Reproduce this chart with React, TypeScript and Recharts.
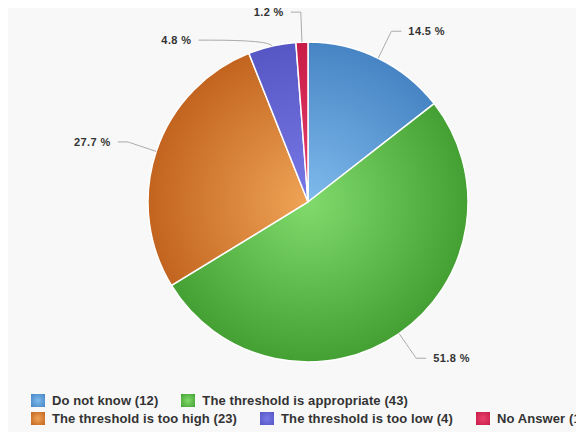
import React from "react";
import { PieChart, Pie, Cell, Legend } from "recharts";

const categories = [
  "Do not know",
  "The threshold is appropriate",
  "The threshold is too high",
  "The threshold is too low",
  "No Answer",
];
const counts = [12, 43, 23, 4, 1];
const lightColors = ["#80bbec", "#80da6c", "#efa456", "#7878e6", "#e8406c"];
const darkColors = ["#4684c4", "#45a033", "#c2641f", "#5656c4", "#c81c48"];
const legendRows = [
  [0, 1],
  [2, 3, 4],
];

const CX = 300;
const CY = 198;
const RADIUS = 160;
const LABEL_R = 190;
const LABEL_GAP = 28;

const total = counts.reduce((a, b) => a + b, 0);

// work out label y offsets (relative to centre), pushing apart labels that collide
const labelDy: number[] = (() => {
  let cum = 0;
  const items = counts.map((v, i) => {
    const frac = (cum + v / 2) / total;
    cum += v;
    const theta = frac * 2 * Math.PI; // clockwise from top
    return {
      i,
      side: Math.sin(theta) >= 0 ? 1 : -1,
      dy: -LABEL_R * Math.cos(theta),
    };
  });
  const out: number[] = new Array(counts.length).fill(0);
  [1, -1].forEach((side) => {
    const group = items.filter((it) => it.side === side).sort((a, b) => a.dy - b.dy);
    for (let k = 1; k < group.length; k++) {
      if (group[k].dy - group[k - 1].dy < LABEL_GAP) {
        group[k].dy = group[k - 1].dy + LABEL_GAP;
      }
    }
    group.forEach((it) => (out[it.i] = it.dy));
  });
  return out;
})();

const renderLabel = (props: any) => {
  const { cx, cy, midAngle, outerRadius, index, percent } = props;
  const rad = (-midAngle * Math.PI) / 180;
  const ex = cx + outerRadius * Math.cos(rad);
  const ey = cy + outerRadius * Math.sin(rad);
  const side = Math.cos(rad) >= 0 ? 1 : -1;
  const dy = labelDy[index];
  const ay = cy + dy;
  const ax = cx + side * Math.sqrt(Math.max(LABEL_R * LABEL_R - dy * dy, 0));
  // control point: where the radial line meets the label's row
  const dirY = Math.sin(rad);
  const t = Math.abs(dirY) > 0.05 ? (ay - ey) / dirY : 0;
  const qx = ex + Math.cos(rad) * Math.max(t, 0);
  const lineEnd = ax + side * 10;
  return (
    <g>
      <path
        d={`M${ex},${ey} Q${qx},${ay} ${ax},${ay} L${lineEnd},${ay}`}
        stroke="#aaaaaa"
        strokeWidth={1}
        fill="none"
      />
      <text
        x={ax + side * 17}
        y={ay}
        textAnchor={side > 0 ? "start" : "end"}
        dominantBaseline="central"
        fill="#333333"
        fontSize={11}
        fontWeight="bold"
        letterSpacing={0.4}
        fontFamily="'Liberation Sans', Arial, sans-serif"
      >
        {(percent * 100).toFixed(1)} %
      </text>
    </g>
  );
};

const CustomLegend = () => {
  return (
    <div style={{ fontFamily: "'Liberation Sans', Arial, sans-serif" }}>
      {legendRows.map((row, r) => (
        <div key={r} style={{ display: "flex", whiteSpace: "nowrap", height: 18, alignItems: "center" }}>
          {row.map((i) => (
            <span
              key={i}
              style={{ display: "flex", alignItems: "center", marginRight: 23 }}
            >
              <span
                style={{
                  display: "inline-block",
                  width: 14,
                  height: 13,
                  marginRight: 7,
                  background: `radial-gradient(circle, ${lightColors[i]} 0%, ${darkColors[i]} 100%)`,
                }}
              />
              <span
                style={{ fontSize: 13, fontWeight: "bold", color: "#333333", letterSpacing: 0.1 }}
              >
                {categories[i]} ({counts[i]})
              </span>
            </span>
          ))}
        </div>
      ))}
    </div>
  );
};

const chartData = categories.map((name, i) => ({ name, value: counts[i] }));

export default function App() {
  return (
    <div
      style={{
        width: 576,
        height: 428,
        marginTop: -4,
        background: "#f8f8f8",
        position: "relative",
        overflow: "hidden",
      }}
    >
      <PieChart width={576} height={428} margin={{ top: 0, right: 0, bottom: 0, left: 0 }}>
        <defs>
          {categories.map((_, i) => (
            <radialGradient
              key={i}
              id={`slice${i}`}
              gradientUnits="userSpaceOnUse"
              cx={CX}
              cy={CY}
              r={RADIUS}
            >
              <stop offset="0%" stopColor={lightColors[i]} />
              <stop offset="100%" stopColor={darkColors[i]} />
            </radialGradient>
          ))}
        </defs>
        <Pie
          data={chartData}
          dataKey="value"
          nameKey="name"
          cx={CX}
          cy={CY}
          outerRadius={RADIUS}
          startAngle={90}
          endAngle={-270}
          stroke="#ffffff"
          strokeWidth={1.5}
          label={renderLabel}
          labelLine={false}
          isAnimationActive={false}
        >
          {chartData.map((_, i) => (
            <Cell key={i} fill={`url(#slice${i})`} />
          ))}
        </Pie>
        <Legend
          content={<CustomLegend />}
          wrapperStyle={{ position: "absolute", left: 23, top: 387, width: 600 }}
        />
      </PieChart>
    </div>
  );
}
